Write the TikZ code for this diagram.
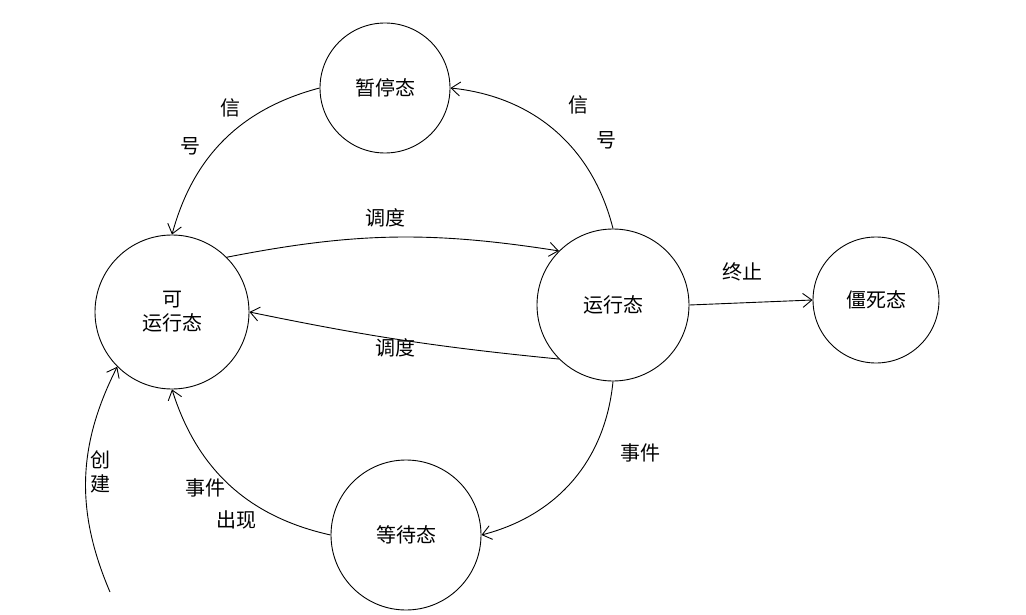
\documentclass[tikz,border=0pt]{standalone}
\usepackage{fontspec}
\setmainfont{Noto Sans CJK SC}
\usetikzlibrary{arrows.meta}
\begin{document}
\begin{tikzpicture}[x=1pt,y=-1pt,
  state/.style={draw,circle,line width=0.9pt,font=\fontsize{20}{24}\selectfont,align=center,inner sep=0pt},
  lbl/.style={font=\fontsize{20}{24}\selectfont,align=center},
  arr/.style={-{Straight Barb[length=9pt,width=14pt]},line width=0.9pt}]
\useasboundingbox (0,0) rectangle (1026,615);
\node[state,minimum size=130] (pause) at (385,88) {暂停态};
\node[state,minimum size=154] (ready) at (172,312) {可\\运行态};
\node[state,minimum size=152] (run) at (613,305) {运行态};
\node[state,minimum size=126] (dead) at (876,300) {僵死态};
\node[state,minimum size=150] (wait) at (406,535) {等待态};
\coordinate (start) at (110,592);
\draw[arr] (pause.west) to[bend right=30] (ready.north);
\draw[arr] (run.north) to[bend right=35] (pause.east);
\draw[arr] (ready.north east) to[bend left=10] (run.north west);
\draw[arr] (run.south west) to[bend left=3] (ready.east);
\draw[arr] (run.east) -- (dead.west);
\draw[arr] (run.south) to[bend left=35] (wait.east);
\draw[arr] (wait.west) to[bend left=30] (ready.south);
\draw[arr] (start) to[bend left=25] (ready.south west);
\node[lbl] (l1) at (230,108) {信};
\node[lbl] (l2) at (190,146) {号};
\node[lbl] (l3) at (578,105) {信};
\node[lbl] (l4) at (606,140) {号};
\node[lbl] (l5) at (385,218) {调度};
\node[lbl] (l6) at (395,348) {调度};
\node[lbl] (l7) at (742,272) {终止};
\node[lbl] (l8) at (640,453) {事件};
\node[lbl] (l9) at (205,488) {事件};
\node[lbl] (l10) at (236,520) {出现};
\node[lbl] (l11) at (100,472) {创\\建};
\end{tikzpicture}
\end{document}
